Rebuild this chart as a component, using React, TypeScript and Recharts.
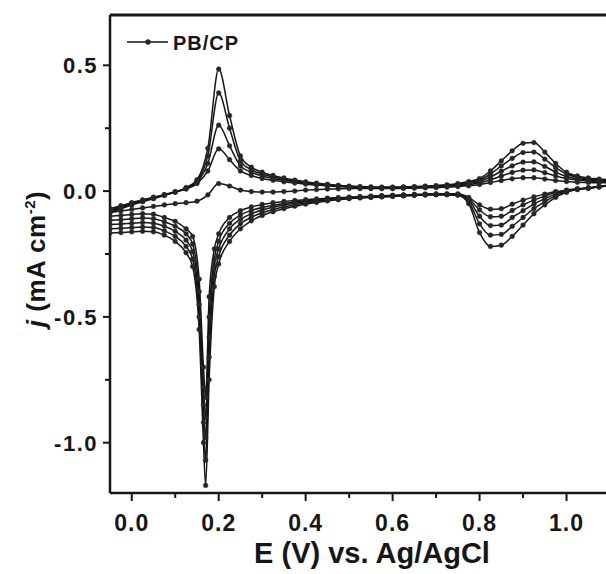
import React from "react";
import { LineChart, Line, XAxis, YAxis, ReferenceLine } from "recharts";

// potential grid, forward (anodic) scan
const E_UP = [
  -0.05, -0.025, 0, 0.025, 0.05, 0.075, 0.1, 0.125, 0.15, 0.175, 0.2, 0.225,
  0.25, 0.275, 0.3, 0.325, 0.35, 0.375, 0.4, 0.425, 0.45, 0.475, 0.5, 0.525,
  0.55, 0.575, 0.6, 0.625, 0.65, 0.675, 0.7, 0.725, 0.75, 0.775, 0.8, 0.825,
  0.85, 0.875, 0.9, 0.925, 0.95, 0.975, 1.0, 1.025, 1.05, 1.075, 1.1,
];

// potential grid, reverse (cathodic) scan, denser round the sharp peak
const E_DN = [
  -0.05, -0.025, 0, 0.025, 0.05, 0.075, 0.1, 0.125, 0.14, 0.155, 0.165, 0.17,
  0.178, 0.19, 0.2, 0.225, 0.25, 0.275, 0.3, 0.325, 0.35, 0.375, 0.4, 0.425,
  0.45, 0.475, 0.5, 0.525, 0.55, 0.575, 0.6, 0.625, 0.65, 0.675, 0.7, 0.725,
  0.75, 0.775, 0.8, 0.825, 0.85, 0.875, 0.9, 0.925, 0.95, 0.975, 1.0, 1.025,
  1.05, 1.075, 1.1,
];

// current density (mA cm-2), one array per scan and branch
const UP_1 = [
  -0.085, -0.07, -0.055, -0.042, -0.03, -0.017, -0.004, 0.014, 0.045, 0.17,
  0.485, 0.3, 0.14, 0.095, 0.075, 0.062, 0.052, 0.044, 0.037, 0.032, 0.027,
  0.023, 0.02, 0.018, 0.017, 0.016, 0.016, 0.017, 0.018, 0.02, 0.022, 0.025,
  0.03, 0.038, 0.05, 0.08, 0.12, 0.16, 0.19, 0.193, 0.155, 0.11, 0.075, 0.06,
  0.052, 0.048, 0.045,
];
const UP_2 = [
  -0.08, -0.066, -0.052, -0.04, -0.028, -0.016, -0.004, 0.012, 0.04, 0.14,
  0.39, 0.25, 0.12, 0.085, 0.068, 0.056, 0.047, 0.04, 0.034, 0.029, 0.025,
  0.021, 0.018, 0.016, 0.015, 0.014, 0.014, 0.015, 0.016, 0.018, 0.02, 0.023,
  0.027, 0.034, 0.044, 0.068, 0.1, 0.13, 0.153, 0.155, 0.127, 0.093, 0.068,
  0.055, 0.048, 0.044, 0.042,
];
const UP_3 = [
  -0.075, -0.062, -0.049, -0.037, -0.026, -0.015, -0.003, 0.01, 0.035, 0.11,
  0.262, 0.18, 0.1, 0.075, 0.06, 0.05, 0.043, 0.037, 0.031, 0.027, 0.023,
  0.02, 0.017, 0.015, 0.014, 0.013, 0.013, 0.014, 0.015, 0.016, 0.018, 0.021,
  0.024, 0.03, 0.038, 0.056, 0.079, 0.1, 0.115, 0.116, 0.098, 0.076, 0.058,
  0.049, 0.044, 0.041, 0.04,
];
const UP_4 = [
  -0.07, -0.058, -0.046, -0.035, -0.024, -0.014, -0.003, 0.008, 0.03, 0.08,
  0.168, 0.125, 0.08, 0.062, 0.05, 0.043, 0.037, 0.032, 0.028, 0.024, 0.021,
  0.018, 0.015, 0.013, 0.012, 0.011, 0.011, 0.012, 0.013, 0.015, 0.016, 0.018,
  0.021, 0.026, 0.032, 0.045, 0.06, 0.074, 0.083, 0.084, 0.073, 0.06, 0.05,
  0.044, 0.04, 0.038, 0.037,
];
const UP_5 = [
  -0.085, -0.079, -0.073, -0.067, -0.061, -0.055, -0.05, -0.046, -0.04,
  -0.015, 0.03, 0.02, 0.004, -0.002, -0.004, -0.004, -0.002, 0.0, 0.004, 0.006,
  0.008, 0.009, 0.01, 0.01, 0.01, 0.01, 0.01, 0.011, 0.012, 0.013, 0.014,
  0.016, 0.018, 0.021, 0.026, 0.034, 0.042, 0.049, 0.053, 0.053, 0.048, 0.042,
  0.038, 0.035, 0.034, 0.033, 0.033,
];

const DN_1 = [
  -0.167, -0.165, -0.162, -0.16, -0.162, -0.175, -0.2, -0.245, -0.3, -0.55,
  -1.0, -1.17, -0.75, -0.38, -0.29, -0.2, -0.15, -0.118, -0.097, -0.082, -0.07,
  -0.06, -0.052, -0.045, -0.039, -0.034, -0.03, -0.027, -0.025, -0.023, -0.021,
  -0.019, -0.017, -0.015, -0.014, -0.014, -0.016, -0.05, -0.165, -0.22,
  -0.215, -0.18, -0.135, -0.09, -0.055, -0.025, -0.005, 0.006, 0.012, 0.018,
  0.025,
];
const DN_2 = [
  -0.15, -0.148, -0.145, -0.143, -0.145, -0.158, -0.18, -0.22, -0.27, -0.5,
  -0.92, -1.07, -0.66, -0.34, -0.26, -0.175, -0.13, -0.104, -0.086, -0.073,
  -0.063, -0.054, -0.047, -0.041, -0.036, -0.032, -0.028, -0.026, -0.024,
  -0.022, -0.02, -0.018, -0.016, -0.015, -0.014, -0.014, -0.015, -0.042, -0.13,
  -0.175, -0.172, -0.14, -0.105, -0.07, -0.042, -0.018, -0.003, 0.007, 0.012,
  0.018, 0.024,
];
const DN_3 = [
  -0.133, -0.131, -0.128, -0.125, -0.128, -0.14, -0.16, -0.195, -0.24, -0.45,
  -0.85, -0.98, -0.58, -0.3, -0.23, -0.15, -0.112, -0.09, -0.075, -0.064,
  -0.055, -0.048, -0.042, -0.037, -0.033, -0.03, -0.027, -0.025, -0.023,
  -0.021, -0.019, -0.017, -0.015, -0.014, -0.013, -0.013, -0.014, -0.035, -0.1,
  -0.137, -0.135, -0.105, -0.078, -0.052, -0.03, -0.012, 0.0, 0.008, 0.012,
  0.017, 0.023,
];
const DN_4 = [
  -0.116, -0.114, -0.11, -0.107, -0.11, -0.122, -0.14, -0.17, -0.21, -0.4,
  -0.78, -0.9, -0.5, -0.27, -0.2, -0.128, -0.095, -0.077, -0.065, -0.056,
  -0.049, -0.043, -0.038, -0.034, -0.031, -0.028, -0.025, -0.023, -0.021,
  -0.019, -0.018, -0.016, -0.014, -0.013, -0.012, -0.012, -0.013, -0.03,
  -0.075, -0.102, -0.1, -0.077, -0.055, -0.036, -0.02, -0.006, 0.002, 0.008,
  0.012, 0.017, 0.022,
];
const DN_5 = [
  -0.1, -0.097, -0.093, -0.09, -0.092, -0.105, -0.12, -0.15, -0.18, -0.35,
  -0.7, -0.82, -0.42, -0.23, -0.17, -0.105, -0.078, -0.063, -0.053, -0.046,
  -0.041, -0.037, -0.034, -0.031, -0.028, -0.026, -0.024, -0.022, -0.02,
  -0.018, -0.017, -0.015, -0.013, -0.012, -0.011, -0.011, -0.011, -0.025,
  -0.055, -0.072, -0.07, -0.052, -0.036, -0.023, -0.012, -0.002, 0.004, 0.009,
  0.012, 0.017, 0.021,
];

const X_TICKS = [0, 0.1, 0.2, 0.3, 0.4, 0.5, 0.6, 0.7, 0.8, 0.9, 1.0, 1.1];
const Y_TICKS = [-1, -0.75, -0.5, -0.25, 0, 0.25, 0.5];
const X_DOMAIN = [-0.05, 1.1];
const Y_DOMAIN = [-1.2, 0.7];

const LEGEND_LABEL = "PB/CP";
const X_TITLE = "E (V) vs. Ag/AgCl";

const FONT = "'Liberation Sans', Arial, Helvetica, sans-serif";
const INK = "#161616";
const PLOT_LEFT = 110;
const PLOT_BOTTOM = 493;

const branches = [
  ...[UP_1, UP_2, UP_3, UP_4, UP_5].map((vals) => E_UP.map((E, i) => ({ E, j: vals[i] }))),
  ...[DN_1, DN_2, DN_3, DN_4, DN_5].map((vals) => E_DN.map((E, i) => ({ E, j: vals[i] }))),
];

const XTick = (props: any) => {
  const { x, payload } = props;
  const v = payload.value as number;
  const major = Math.round(v * 10) % 2 === 0;
  return (
    <g>
      <line x1={x} x2={x} y1={PLOT_BOTTOM} y2={PLOT_BOTTOM + (major ? 8 : 5)} stroke={INK} strokeWidth={2} />
      {major && (
        <text x={x} y={531} textAnchor="middle" fontFamily={FONT} fontWeight="bold" fontSize={23} letterSpacing={1} fill={INK}>
          {v.toFixed(1)}
        </text>
      )}
    </g>
  );
};

const YTick = (props: any) => {
  const { y, payload } = props;
  const v = payload.value as number;
  const major = Math.round(v * 100) % 50 === 0;
  return (
    <g>
      <line x1={PLOT_LEFT - (major ? 7 : 5)} x2={PLOT_LEFT} y1={y} y2={y} stroke={INK} strokeWidth={2} />
      {major && (
        <text x={98} y={y + 8} textAnchor="end" fontFamily={FONT} fontWeight="bold" fontSize={22} letterSpacing={1.5} fill={INK}>
          {v.toFixed(1)}
        </text>
      )}
    </g>
  );
};

export default function App() {
  return (
    <div style={{ position: "absolute", left: 0, top: 0, width: 606, height: 574, overflow: "hidden", background: "#fff" }}>
      <LineChart width={640} height={574} margin={{ top: 15, right: 30, bottom: 0, left: 0 }}>
        <XAxis
          type="number"
          dataKey="E"
          domain={X_DOMAIN}
          ticks={X_TICKS}
          interval={0}
          allowDataOverflow
          height={81}
          tickLine={false}
          axisLine={{ stroke: INK, strokeWidth: 2.5 }}
          tick={<XTick />}
        />
        <YAxis
          type="number"
          domain={Y_DOMAIN}
          ticks={Y_TICKS}
          interval={0}
          allowDataOverflow
          width={110}
          tickLine={false}
          axisLine={{ stroke: INK, strokeWidth: 2.5 }}
          tick={<YTick />}
        />
        {/* top frame line */}
        <ReferenceLine y={Y_DOMAIN[1]} stroke={INK} strokeWidth={3} ifOverflow="visible" />
        {branches.map((data, k) => (
          <Line
            key={k}
            data={data}
            dataKey="j"
            type="monotone"
            stroke={INK}
            strokeWidth={1.5}
            dot={{ r: 2.4, fill: "#262626", stroke: "#262626", strokeWidth: 0.4 }}
            isAnimationActive={false}
          />
        ))}
      </LineChart>
      <svg width={606} height={574} style={{ position: "absolute", left: 0, top: 0, pointerEvents: "none" }}>
        <line x1={127} x2={168} y1={42} y2={42} stroke={INK} strokeWidth={1.6} />
        <circle cx={148} cy={42} r={2.7} fill="#262626" />
        <text x={173} y={50} fontFamily={FONT} fontWeight="bold" fontSize={20} letterSpacing={1} fill={INK}>
          {LEGEND_LABEL}
        </text>
        <text x={372} y={563} textAnchor="middle" fontFamily={FONT} fontWeight="bold" fontSize={29} fill={INK}>
          {X_TITLE}
        </text>
        <text
          x={45}
          y={259}
          textAnchor="middle"
          transform="rotate(-90 45 259)"
          fontFamily={FONT}
          fontWeight="bold"
          fontSize={26}
          letterSpacing={0.5}
          fill={INK}
        >
          <tspan fontStyle="italic">j</tspan>
          <tspan> (mA cm</tspan>
          <tspan dy={-10} fontSize={15}>-2</tspan>
          <tspan dy={10}>)</tspan>
        </text>
      </svg>
    </div>
  );
}
